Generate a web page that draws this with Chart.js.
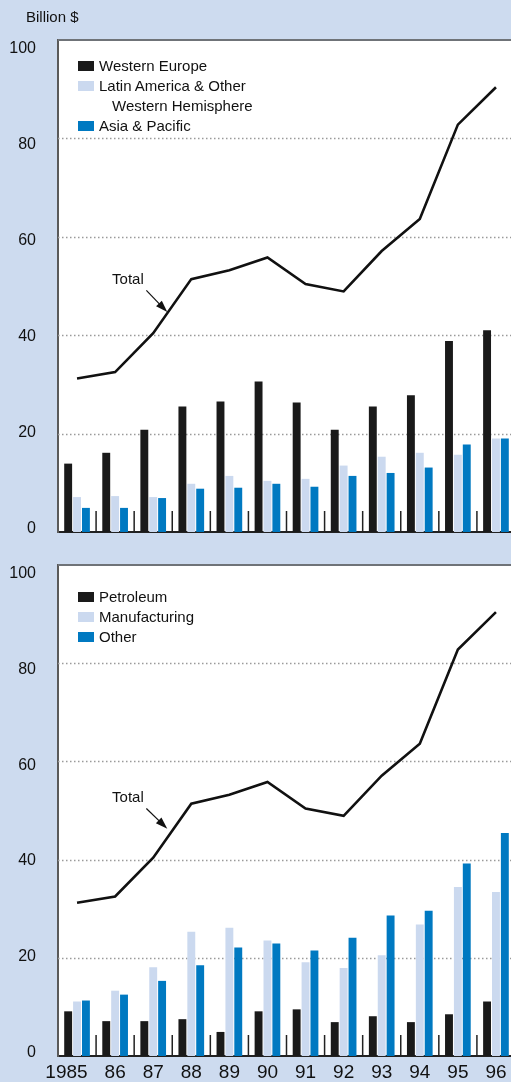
<!DOCTYPE html>
<html>
<head>
<meta charset="utf-8">
<script src="https://cdn.jsdelivr.net/npm/chart.js@4.4.1/dist/chart.umd.min.js"></script>
<style>
  body { margin: 0; background: #cddbef; width: 511px; height: 1082px; overflow: hidden;
         font-family: "Liberation Sans", Arial, sans-serif; color: #111; }
  .panel { position: absolute; left: 0; width: 520px; }
  #topPanel { top: 0; height: 548px; }
  #bottomPanel { top: 548px; height: 534px; }
  .unit { position: absolute; left: 26px; top: 8px; font-size: 15px; }
  .legend { position: absolute; left: 78px; font-size: 15px; line-height: 20px; }
  .legend .row { position: relative; padding-left: 21px; white-space: nowrap; }
  .legend .row span { position: absolute; left: 0; top: 5px; width: 16px; height: 10px; }
  .legend .row .more { display: block; margin-left: 13px; }
</style>
</head>
<body>
<div class="panel" id="topPanel"><canvas id="topChart" width="520" height="548"></canvas></div>
<div class="panel" id="bottomPanel"><canvas id="bottomChart" width="520" height="534"></canvas></div>
<div class="unit">Billion $</div>
<div class="legend" id="topLegend" style="top:56px"></div>
<div class="legend" id="bottomLegend" style="top:587px"></div>

<script>
// data (billion $)
const years = ["1985", "86", "87", "88", "89", "90", "91", "92", "93", "94", "95", "96"];
const yTicks = [0, 20, 40, 60, 80, 100];
const totalByYear = [31.2, 32.5, 40.4, 51.4, 53.2, 55.8, 50.4, 48.9, 57.1, 63.6, 82.8, 90.4];

// by region
const regionNames = ["Western Europe", "Latin America & Other\nWestern Hemisphere", "Asia & Pacific"];
const westernEurope = [13.9, 16.1, 20.8, 25.5, 26.5, 30.6, 26.3, 20.8, 25.5, 27.8, 38.8, 41.0];
const latinAmerica = [7.1, 7.3, 7.1, 9.8, 11.4, 10.4, 10.8, 13.5, 15.3, 16.1, 15.7, 19.0];
const asiaPacific = [4.9, 4.9, 6.9, 8.8, 9.0, 9.8, 9.2, 11.4, 12.0, 13.1, 17.8, 19.0];

// by industry
const industryNames = ["Petroleum", "Manufacturing", "Other"];
const petroleum = [9.1, 7.1, 7.1, 7.5, 4.9, 9.1, 9.5, 6.9, 8.1, 6.9, 8.5, 11.1];
const manufacturing = [11.1, 13.3, 18.1, 25.3, 26.1, 23.5, 19.1, 17.9, 20.5, 26.8, 34.4, 33.4];
const otherIndustry = [11.3, 12.5, 15.3, 18.5, 22.1, 22.9, 21.5, 24.1, 28.6, 29.6, 39.2, 45.4];

const barColors = ["#1a1a1a", "#cbd9ef", "#0079c1"];
const font = "'Liberation Sans', Arial, sans-serif";

const panelDecor = {
  id: "panelDecor",
  beforeDraw(chart) {
    const { ctx, chartArea: a } = chart;
    ctx.save();
    ctx.fillStyle = "#fff";
    ctx.fillRect(a.left, a.top, a.right - a.left, a.bottom - a.top);
    ctx.restore();
  },
  beforeDatasetsDraw(chart) {
    const { ctx, chartArea: a, scales: { y } } = chart;
    ctx.save();
    ctx.strokeStyle = "#9a9a9a";
    ctx.lineWidth = 1.5;
    ctx.setLineDash([1.5, 2.5]);
    yTicks.forEach((v) => {
      if (v <= 0 || v >= 100) return;
      const py = Math.round(y.getPixelForValue(v)) + 0.5;
      ctx.beginPath();
      ctx.moveTo(a.left, py);
      ctx.lineTo(a.right, py);
      ctx.stroke();
    });
    ctx.restore();
  },
  afterDatasetsDraw(chart, args, opts) {
    const { ctx, chartArea: a, scales: { x, y } } = chart;
    ctx.save();
    // frame top
    ctx.strokeStyle = "#6f7378";
    ctx.lineWidth = 2;
    ctx.beginPath();
    ctx.moveTo(a.left, a.top);
    ctx.lineTo(a.right, a.top);
    ctx.stroke();
    // short marks between year groups
    ctx.strokeStyle = "#222";
    ctx.lineWidth = 1.5;
    for (let i = 0; i < years.length; i++) {
      const px = (x.getPixelForValue(i) + x.getPixelForValue(i + 1)) / 2;
      ctx.beginPath();
      ctx.moveTo(px, a.bottom);
      ctx.lineTo(px, a.bottom - 21);
      ctx.stroke();
    }
    // "Total" note with arrow
    const n = opts.note;
    ctx.fillStyle = "#111";
    ctx.font = "15px " + font;
    ctx.textAlign = "left";
    ctx.textBaseline = "middle";
    ctx.fillText("Total", x.getPixelForValue(n.at[0]), y.getPixelForValue(n.at[1]));
    const x1 = x.getPixelForValue(n.from[0]), y1 = y.getPixelForValue(n.from[1]);
    const x2 = x.getPixelForValue(n.to[0]), y2 = y.getPixelForValue(n.to[1]);
    const ang = Math.atan2(y2 - y1, x2 - x1);
    ctx.strokeStyle = "#111";
    ctx.lineWidth = 1.2;
    ctx.beginPath();
    ctx.moveTo(x1, y1);
    ctx.lineTo(x2 - 8 * Math.cos(ang), y2 - 8 * Math.sin(ang));
    ctx.stroke();
    ctx.beginPath();
    ctx.moveTo(x2, y2);
    ctx.lineTo(x2 - 12 * Math.cos(ang) + 4 * Math.sin(ang), y2 - 12 * Math.sin(ang) - 4 * Math.cos(ang));
    ctx.lineTo(x2 - 12 * Math.cos(ang) - 4 * Math.sin(ang), y2 - 12 * Math.sin(ang) + 4 * Math.cos(ang));
    ctx.closePath();
    ctx.fill();
    ctx.restore();
  }
};

const makeChart = (id, names, series, withLabels, padTop, xHeight, note) => {
  const datasets = series.map((data, i) => ({
    type: "bar",
    label: names[i],
    data,
    backgroundColor: barColors[i],
    borderWidth: 0,
    categoryPercentage: 0.7,
    barPercentage: 0.89,
    order: 2
  }));
  datasets.push({
    type: "line",
    label: "Total",
    data: totalByYear,
    borderColor: "#111",
    borderWidth: 2.6,
    pointRadius: 0,
    tension: 0,
    order: 1
  });
  return new Chart(document.getElementById(id), {
    data: { labels: years, datasets },
    options: {
      responsive: false,
      animation: false,
      devicePixelRatio: 1,
      layout: { padding: { top: padTop, right: 5, left: 0, bottom: 0 } },
      plugins: { legend: { display: false }, tooltip: { enabled: false }, panelDecor: { note } },
      scales: {
        x: {
          offset: true,
          z: 1,
          grid: { display: false, drawTicks: false },
          border: { color: "#222", width: 2 },
          ticks: {
            display: withLabels, color: "#111", font: { family: font, size: 19 },
            padding: 5, maxRotation: 0, autoSkip: false,
            callback: (v, i) => (i === 0 ? years[i] + "    " : years[i])
          },
          afterFit: (s) => { s.height = xHeight; s.paddingLeft = 0; s.paddingRight = 0; }
        },
        y: {
          display: false,
          min: 0,
          max: 100
        },
        // label axis: the printed labels sit slightly lower toward the top
        yLabels: {
          position: "left",
          min: -0.62,
          max: 101.7,
          grid: { display: false, drawTicks: false },
          border: { color: "#5a5a5a", width: 2 },
          ticks: { color: "#111", font: { family: font, size: 16 }, padding: 22 },
          afterBuildTicks: (s) => { s.ticks = yTicks.map((v) => ({ value: v })); },
          afterFit: (s) => { s.width = 58; s.paddingTop = 0; s.paddingBottom = 0; }
        }
      }
    },
    plugins: [panelDecor]
  });
};

const buildLegend = (id, names) => {
  const box = document.getElementById(id);
  names.forEach((name, i) => {
    const row = document.createElement("div");
    row.className = "row";
    const sw = document.createElement("span");
    sw.style.background = barColors[i];
    row.appendChild(sw);
    name.split("\n").forEach((part, j) => {
      const t = document.createElement(j ? "div" : "text");
      if (j) t.className = "more";
      t.textContent = part;
      row.appendChild(t);
    });
    box.appendChild(row);
  });
};

makeChart("topChart", regionNames, [westernEurope, latinAmerica, asiaPacific], false, 40, 16,
  { at: [0.92, 51.2], from: [1.82, 49.1], to: [2.37, 44.7] });
makeChart("bottomChart", industryNames, [petroleum, manufacturing, otherIndustry], true, 17, 26,
  { at: [0.92, 52.6], from: [1.82, 50.4], to: [2.37, 46.3] });
buildLegend("topLegend", regionNames);
buildLegend("bottomLegend", industryNames);
</script>
</body>
</html>
